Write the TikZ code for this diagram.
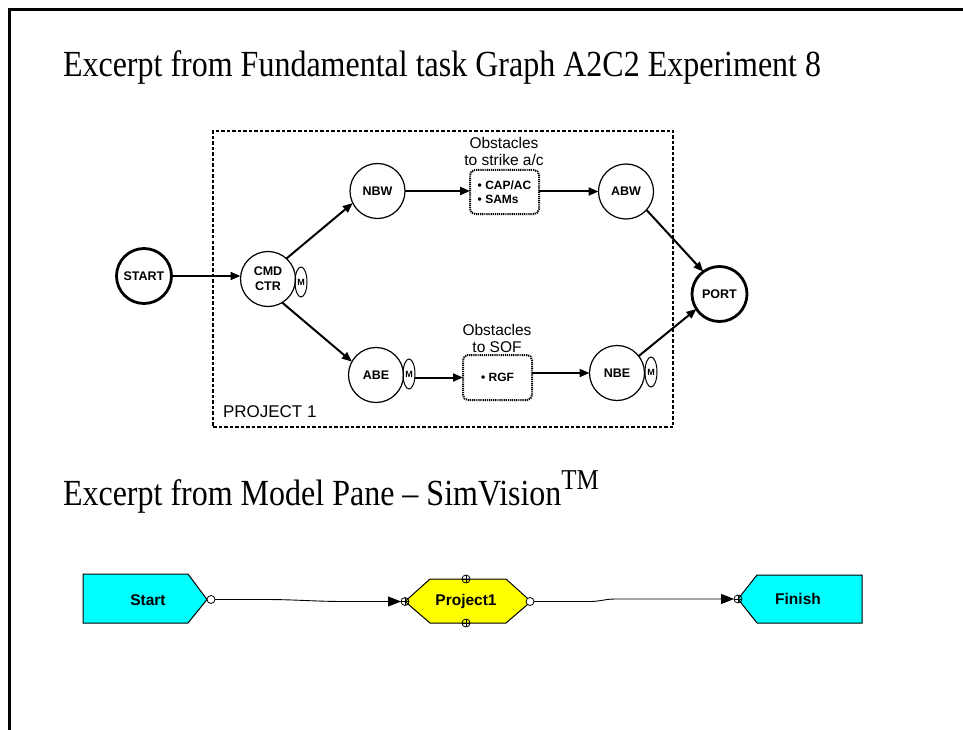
\documentclass[tikz,border=0pt]{standalone}
\usepackage{fontspec}
\setmainfont{Liberation Serif}
\newfontfamily\arialf{Liberation Sans}
\usetikzlibrary{arrows.meta,shapes.geometric}
\begin{document}
\begin{tikzpicture}[x=1pt,y=-1pt,
 every node/.style={inner sep=0pt,outer sep=0pt},
 tnode/.style={circle,draw,line width=1.2pt,minimum size=55pt,font=\arialf\bfseries\fontsize{12.5}{15}\selectfont,align=center},
 tthick/.style={tnode,line width=2.8pt},
 mnode/.style={ellipse,draw,line width=1pt,minimum width=12pt,minimum height=30pt,font=\arialf\bfseries\fontsize{9}{9}\selectfont},
 obox/.style={draw,rounded corners=5pt,line width=2pt,dash pattern=on 1.2pt off 0.9pt,minimum width=69pt,minimum height=44pt,font=\arialf\bfseries\fontsize{12}{14}\selectfont,align=left},
 olabel/.style={font=\arialf\fontsize{15.5}{17}\selectfont,align=center},
 conn/.style={line width=2pt,-{Triangle[length=10pt,width=8pt]}},
 title/.style={anchor=west,font=\fontsize{32}{38}\selectfont},
 simlabel/.style={font=\arialf\bfseries\fontsize{15.5}{18}\selectfont},
 oplusnode/.style={circle,draw,line width=0.8pt,minimum size=8pt,path picture={\draw[line width=0.6pt] (path picture bounding box.north) -- (path picture bounding box.south) (path picture bounding box.east) -- (path picture bounding box.west);}},
 ocirc/.style={circle,draw,fill=white,line width=0.8pt,minimum size=8pt},
 simconn/.style={line width=0.9pt,-{Triangle[length=13pt,width=10pt]}}
]
\useasboundingbox (0,0) rectangle (963,730);
% frame
\draw[line width=2.8pt] (963,9.7) -- (9.7,9.7) -- (9.7,730);
% titles
\node[title] (t1) at (63,67) {\scalebox{1}[1.15]{Excerpt from Fundamental task Graph A2C2 Experiment 8}};
\node[title] (t2) at (63,492) {\scalebox{1}[1.15]{Excerpt from Model Pane -- SimVision\raisebox{0.45em}{\fontsize{25}{25}\selectfont TM}}};
% project box
\node[draw,line width=1.5pt,dash pattern=on 3.5pt off 2pt,minimum width=460pt,minimum height=296pt] (proj) at (443,279) {};
\node[anchor=west,font=\arialf\fontsize{17}{20}\selectfont] (projlbl) at (223,412) {PROJECT 1};
% task nodes
\node[tthick] (start) at (144,276) {START};
\node[tnode] (cmd) at (268,279) {CMD\\CTR};
\node[mnode] (cmdm) at (301,282) {M};
\node[tnode] (nbw) at (377.5,191) {NBW};
\node[obox] (box1) at (504.5,192) {• CAP/AC\\• SAMs};
\node[olabel] (lbl1) at (504,151) {Obstacles\\to strike a/c};
\node[tnode] (abw) at (626,191.5) {ABW};
\node[tthick] (port) at (719.5,294) {PORT};
\node[tnode] (abe) at (376,375) {ABE};
\node[mnode] (abem) at (409,374) {M};
\node[obox,minimum height=45pt] (box2) at (497.5,377.5) {• RGF};
\node[olabel] (lbl2) at (497,338) {Obstacles\\to SOF};
\node[tnode] (nbe) at (617,373) {NBE};
\node[mnode] (nbem) at (651,372) {M};
% connectors
\draw[conn] (start) -- (cmd.west |- start);
\draw[conn] (cmd.48) -- (nbw.206);
\draw[conn] (cmd.301) -- (abe.151);
\draw[conn] (nbw) -- (box1.west |- nbw);
\draw[conn] (box1.east |- abw) -- (abw);
\draw[conn] (abw.318) -- (port.126);
\draw[conn] (abem.east |- box2) -- (box2.west);
\draw[conn] (box2.east |- nbe) -- (nbe.west);
\draw[conn] (nbe.38) -- (port.213);
% SimVision model pane
\draw[line width=1pt,fill={rgb,255:red,0;green,255;blue,255}] (83,574) -- (188,574) -- (207,599.5) -- (188,623) -- (83,623) -- cycle;
\node[simlabel] (startb) at (148,600) {Start};
\draw[line width=1pt,fill={rgb,255:red,255;green,255;blue,0}] (405,601.5) -- (430,579) -- (506,579) -- (531,601.5) -- (506,623) -- (430,623) -- cycle;
\node[simlabel] (projb) at (466,601) {Project1};
\draw[line width=1pt,fill={rgb,255:red,0;green,255;blue,255}] (738,599) -- (757,575) -- (862,575) -- (862,623) -- (757,623) -- cycle;
\node[simlabel] (finb) at (798,599) {Finish};
\node[oplusnode] (ptop) at (466,579) {};
\node[oplusnode] (pbot) at (466,623) {};
\node[oplusnode] (pleft) at (405,601.5) {};
\node[oplusnode] (fleft) at (738,599) {};
\node[ocirc] (sout) at (211,599.5) {};
\node[ocirc] (pout) at (530,601.5) {};
\coordinate (c1a) at (265,599.5);
\coordinate (c1b) at (345,601.5);
\coordinate (c2a) at (590,601.5);
\coordinate (c2b) at (615,599);
\draw[simconn] (sout) -- (c1a) to[out=0,in=180] (c1b) -- (pleft);
\draw[simconn] (pout) -- (c2a) to[out=0,in=180] (c2b) -- (fleft);
\end{tikzpicture}
\end{document}
